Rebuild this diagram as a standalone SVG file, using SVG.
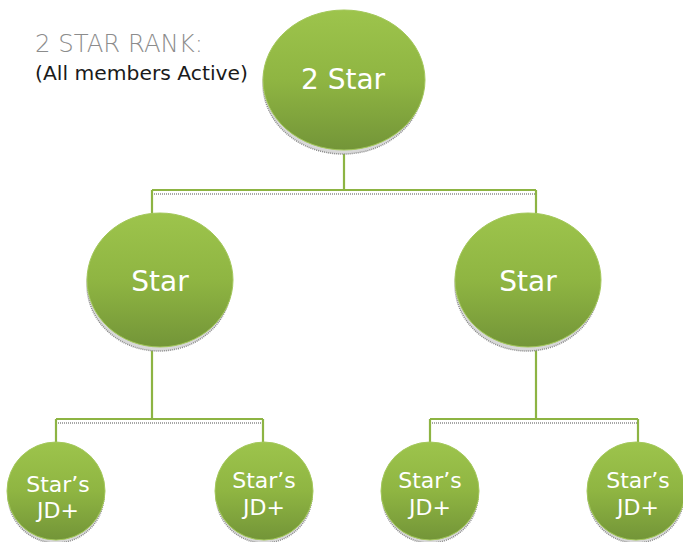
<svg xmlns="http://www.w3.org/2000/svg" width="683" height="542" viewBox="0 0 683 542">
<defs>
<linearGradient id="g" x1="0" y1="0" x2="0" y2="1">
<stop offset="0" stop-color="#9dc44c"/>
<stop offset="0.5" stop-color="#8fb542"/>
<stop offset="1" stop-color="#739538"/>
</linearGradient>
</defs>
<style>
.sh{fill:#d8d8d8;stroke:#8a8a8a;stroke-width:1.5;stroke-dasharray:1 1}
.nd{fill:url(#g);stroke:#a4c85c;stroke-width:1}
.lb{fill:#ffffff;font-family:"DejaVu Sans",sans-serif;font-weight:normal;text-anchor:middle}
.cn{fill:none;stroke:#8db443;stroke-width:2.2}
.cs{fill:none;stroke:#8a8a8a;stroke-width:1.5;stroke-dasharray:1 1}
</style>
<rect width="683" height="542" fill="#ffffff"/>
<text x="35" y="52" font-family="DejaVu Sans, sans-serif" font-weight="200" font-size="24" fill="#8c8c8c" textLength="168" lengthAdjust="spacingAndGlyphs">2 STAR RANK:</text>
<text x="35" y="80" font-family="DejaVu Sans, sans-serif" font-size="19" fill="#1a1a1a" textLength="213" lengthAdjust="spacingAndGlyphs">(All members Active)</text>
<g id="connectors">
<path class="cs" d="M154 194 H538 M56 423 H264 M430 423 H638"/>
<path class="cn" d="M344 150 V190 M152 190 H536 M152 190 V216 M536 190 V216"/>
<path class="cn" d="M152 347 V419 M56 419 H263 M56 419 V446 M263 419 V446"/>
<path class="cn" d="M536 347 V419 M430 419 H638 M430 419 V446 M638 419 V446"/>
</g>
<g id="n-2star">
<ellipse class="sh" cx="343" cy="84" rx="80" ry="70"/>
<ellipse class="nd" cx="344" cy="80" rx="81" ry="70"/>
<text class="lb" x="343" y="89" font-size="28">2 Star</text>
</g>
<g id="n-star-left">
<ellipse class="sh" cx="159" cy="285" rx="72" ry="66"/>
<ellipse class="nd" cx="160" cy="280" rx="73" ry="67"/>
<text class="lb" x="160" y="291" font-size="28">Star</text>
</g>
<g id="n-star-right">
<ellipse class="sh" cx="527" cy="285" rx="72" ry="66"/>
<ellipse class="nd" cx="528" cy="280" rx="73" ry="67"/>
<text class="lb" x="528" y="291" font-size="28">Star</text>
</g>
<g id="n-jd1">
<ellipse class="sh" cx="56" cy="495" rx="48" ry="48"/>
<ellipse class="nd" cx="56" cy="491" rx="49" ry="49"/>
<text class="lb" x="58" y="492" font-size="22">Star’s</text>
<text class="lb" x="58" y="518" font-size="22">JD+</text>
</g>
<g id="n-jd2">
<ellipse class="sh" cx="264" cy="495" rx="48" ry="48"/>
<ellipse class="nd" cx="264" cy="491" rx="49" ry="49"/>
<text class="lb" x="264" y="488" font-size="22">Star’s</text>
<text class="lb" x="264" y="515" font-size="22">JD+</text>
</g>
<g id="n-jd3">
<ellipse class="sh" cx="430" cy="495" rx="48" ry="48"/>
<ellipse class="nd" cx="430" cy="491" rx="49" ry="49"/>
<text class="lb" x="430" y="488" font-size="22">Star’s</text>
<text class="lb" x="430" y="515" font-size="22">JD+</text>
</g>
<g id="n-jd4">
<ellipse class="sh" cx="636" cy="495" rx="48" ry="48"/>
<ellipse class="nd" cx="636" cy="491" rx="49" ry="49"/>
<text class="lb" x="638" y="488" font-size="22">Star’s</text>
<text class="lb" x="638" y="515" font-size="22">JD+</text>
</g>
</svg>
